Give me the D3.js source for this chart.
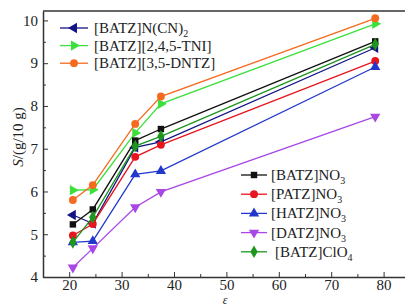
<!DOCTYPE html>
<html>
<head>
<meta charset="utf-8">
<script src="https://cdn.jsdelivr.net/npm/d3@7"></script>
<style>
  body { margin: 0; background: #fff; }
  svg text { font-family: 'Liberation Serif', 'DejaVu Serif', serif; fill: #222; }
  .axis path, .axis line { stroke: #333; }
</style>
</head>
<body>
<div class="chart"></div>
<script>
// dielectric constant of the solvents
var epsilon = [20.7, 24.5, 32.6, 37.5, 78.4];

var batzNCN = [5.45, 5.25, 7.03, 7.16, 9.36];
var batzTNI = [6.03, 6.04, 7.37, 8.05, 9.92];
var batzDNTZ = [5.80, 6.15, 7.58, 8.22, 10.05];
var batzNO3 = [5.23, 5.58, 7.19, 7.46, 9.51];
var patzNO3 = [4.97, 5.24, 6.81, 7.09, 9.05];
var hatzNO3 = [4.81, 4.84, 6.40, 6.48, 8.91];
var datzNO3 = [4.22, 4.67, 5.63, 5.99, 7.75];
var batzClO4 = [4.81, 5.40, 7.06, 7.29, 9.44];

var xTicks = [20, 30, 40, 50, 60, 70, 80];
var yTicks = [4, 5, 6, 7, 8, 9, 10];

var series = [
  { name: '[BATZ]N(CN)', sub: '2', values: batzNCN, color: '#141485', shape: 'tri', rot: -90, box: 1 },
  { name: '[BATZ][2,4,5-TNI]', sub: '', values: batzTNI, color: '#3be03b', shape: 'tri', rot: 90, box: 1 },
  { name: '[BATZ][3,5-DNTZ]', sub: '', values: batzDNTZ, color: '#f56a1e', shape: 'circle', rot: 0, box: 1 },
  { name: '[BATZ]NO', sub: '3', values: batzNO3, color: '#111111', shape: 'square', rot: 0, box: 2 },
  { name: '[PATZ]NO', sub: '3', values: patzNO3, color: '#e8141e', shape: 'circle', rot: 0, box: 2 },
  { name: '[HATZ]NO', sub: '3', values: hatzNO3, color: '#2238cc', shape: 'tri', rot: 0, box: 2 },
  { name: '[DATZ]NO', sub: '3', values: datzNO3, color: '#a846e6', shape: 'tri', rot: 180, box: 2 },
  { name: '[BATZ]ClO', sub: '4', values: batzClO4, color: '#1c961c', shape: 'diamond', rot: 0, box: 2 }
];

var width = 405,
  height = 307;

var svgEl = d3
  .select('.chart')
  .append('svg')
  .attr('width', width)
  .attr('height', height);

var xScale = d3.scaleLinear().domain([15, 85]).range([43, 409.8]);
var yScale = d3.scaleLinear().domain([4, 10.22]).range([277, 11]);

var x0 = xScale.range()[0],
  y0 = yScale.range()[0];

// minor ticks
svgEl
  .append('g')
  .attr('class', 'axis')
  .attr('transform', 'translate(0,' + y0 + ')')
  .call(d3.axisBottom(xScale).tickValues([25, 35, 45, 55, 65, 75]).tickSize(-3).tickFormat(''))
  .call((g) => g.select('.domain').remove());

svgEl
  .append('g')
  .attr('class', 'axis')
  .attr('transform', 'translate(' + x0 + ',0)')
  .call(d3.axisLeft(yScale).tickValues([4.5, 5.5, 6.5, 7.5, 8.5, 9.5]).tickSize(-3).tickFormat(''))
  .call((g) => g.select('.domain').remove());

var xAxis = svgEl
  .append('g')
  .attr('class', 'axis')
  .attr('transform', 'translate(0,' + y0 + ')')
  .call(d3.axisBottom(xScale).tickValues(xTicks).tickFormat(d3.format('d')).tickSize(-5).tickSizeOuter(0).tickPadding(2));

var yAxis = svgEl
  .append('g')
  .attr('class', 'axis')
  .attr('transform', 'translate(' + x0 + ',0)')
  .call(d3.axisLeft(yScale).tickValues(yTicks).tickFormat(d3.format('d')).tickSize(-5).tickSizeOuter(0).tickPadding(5));

svgEl.selectAll('.axis').attr('font-family', null);
svgEl.selectAll('.axis .domain').attr('stroke-width', 1.5);
svgEl.selectAll('.axis text').style('font-size', '15px').attr('fill', '#222');

// top frame
svgEl
  .append('line')
  .attr('x1', x0)
  .attr('x2', width)
  .attr('y1', yScale.range()[1])
  .attr('y2', yScale.range()[1])
  .attr('stroke', '#333')
  .attr('stroke-width', 1.5);

// axis titles
svgEl
  .append('text')
  .attr('x', 225)
  .attr('y', 304)
  .attr('text-anchor', 'middle')
  .style('font-size', '12px')
  .style('font-style', 'italic')
  .text('ε');

var yTitle = svgEl
  .append('text')
  .attr('transform', 'translate(23,137) rotate(-90)')
  .attr('text-anchor', 'middle')
  .style('font-size', '15px');
yTitle.append('tspan').style('font-style', 'italic').text('S');
yTitle.append('tspan').text('/(g/10 g)');

function markerPath(s, size) {
  var type = d3.symbolTriangle;
  if (s.shape === 'circle') type = d3.symbolCircle;
  if (s.shape === 'square') type = d3.symbolSquare;
  if (s.shape === 'diamond') type = d3.symbolDiamond;
  if (s.shape === 'circle') size = size * 1.05;
  if (s.shape === 'square') size = size * 0.9;
  return d3.symbol().type(type).size(size)();
}

var line = d3
  .line()
  .x((d, i) => xScale(epsilon[i]))
  .y((d) => yScale(d));

series.forEach((s) => {
  svgEl
    .append('path')
    .attr('d', line(s.values))
    .attr('fill', 'none')
    .attr('stroke', s.color)
    .attr('stroke-width', 1.3);

  svgEl
    .append('g')
    .selectAll('path')
    .data(s.values)
    .enter()
    .append('path')
    .attr('d', markerPath(s, 46))
    .attr('transform', (d, i) => 'translate(' + xScale(epsilon[i]) + ',' + yScale(d) + ') rotate(' + s.rot + ')')
    .attr('fill', s.color);
});

// legends
function drawLegend(items, lx1, lx2, tx, ty, step) {
  items.forEach((s, i) => {
    var yy = ty + i * step;
    var g = svgEl.append('g');
    g.append('line')
      .attr('x1', lx1)
      .attr('x2', lx2)
      .attr('y1', yy)
      .attr('y2', yy)
      .attr('stroke', s.color)
      .attr('stroke-width', 1.3);
    g.append('path')
      .attr('d', markerPath(s, 46))
      .attr('transform', 'translate(' + (lx1 + lx2) / 2 + ',' + yy + ') rotate(' + s.rot + ')')
      .attr('fill', s.color);
    var t = g
      .append('text')
      .attr('x', tx + (s.sub === '4' ? 4 : 0))
      .attr('y', yy + 5)
      .style('font-size', '15px');
    t.append('tspan').text(s.name);
    if (s.sub) {
      t.append('tspan').attr('dy', 4).style('font-size', '10px').text(s.sub);
    }
  });
}

drawLegend(series.filter((s) => s.box === 1), 60, 88, 94, 28, 17.6);
drawLegend(series.filter((s) => s.box === 2), 241, 267, 271, 175, 19.2);
</script>
</body>
</html>
